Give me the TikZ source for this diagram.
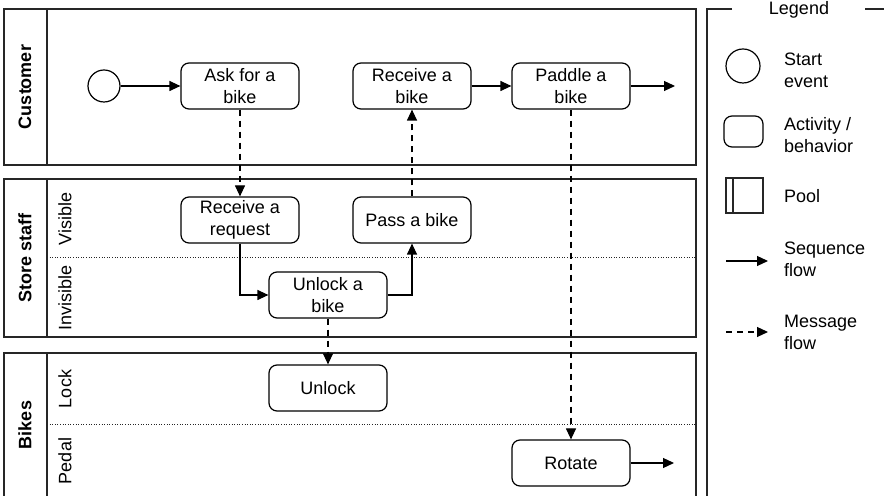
\documentclass[tikz,border=0pt]{standalone}
\usepackage{fontspec}
\setmainfont{Liberation Sans}
\usetikzlibrary{arrows.meta}

\tikzset{
  activity/.style={draw=black,line width=0.6pt,rounded corners=4pt,minimum width=59pt,minimum height=23pt,align=center,inner sep=1pt},
  startev/.style={draw=black,line width=0.6pt,circle,minimum size=16pt,inner sep=0pt},
  seq/.style={draw=black,line width=0.6pt,-{Triangle[length=5.5pt,width=5pt]}},
  msg/.style={seq,dash pattern=on 3pt off 2.5pt},
  pool/.style={draw=black!85,line width=0.6pt},
  lane/.style={draw=black!85,line width=0.5pt,dash pattern=on 0.5pt off 0.8pt},
  poollabel/.style={rotate=90,font=\fontsize{9}{11}\selectfont\bfseries},
  lanelabel/.style={rotate=90},
  legendtext/.style={anchor=west,align=left}
}

\begin{document}
\begin{tikzpicture}[x=0.5pt,y=-0.5pt,font=\fontsize{9}{11}\selectfont]
\useasboundingbox (0,0) rectangle (884,496);

% pools and lanes
\draw[pool] (4,9) rectangle (696,165);
\draw[pool] (47,9) -- (47,165);
\draw[pool] (4,179) rectangle (696,337);
\draw[pool] (47,179) -- (47,337);
\draw[lane] (47,258) -- (696,258);
\draw[pool] (4,497) |- (696,353) -- (696,497);
\draw[pool] (47,353) -- (47,497);
\draw[lane] (47,425) -- (696,425);

\node[poollabel] (customer) at (25,87) {Customer};
\node[poollabel] (staff) at (25,258) {Store staff};
\node[poollabel] (bikes) at (25,425) {Bikes};
\node[lanelabel] (visible) at (65,219) {Visible};
\node[lanelabel] (invisible) at (65,298) {Invisible};
\node[lanelabel] (lock) at (65,389) {Lock};
\node[lanelabel] (pedal) at (65,461) {Pedal};

% activities
\begin{scope}[every node/.style={activity}]
  \node (ask) at (240,86) {Ask for a\\bike};
  \node (getbike) at (412,86) {Receive a\\bike};
  \node (paddle) at (571,86) {Paddle a\\bike};
  \node (request) at (240,220) {Receive a\\request};
  \node (pass) at (412,220) {Pass a bike};
  \node (unlockbike) at (328,295) {Unlock a\\bike};
  \node (unlock) at (328,388) {Unlock};
  \node (rotate) at (571,463) {Rotate};
\end{scope}
\node[startev] (start) at (104,86) {};
\coordinate (paddleout) at (675,86);
\coordinate (rotateout) at (674,463);

% flows
\begin{scope}[every edge/.style={seq}]
  \path (start) edge (ask);
  \path (getbike) edge (paddle);
  \path (paddle) edge (paddleout);
  \path (rotate) edge (rotateout);
\end{scope}
\draw[seq] (request) |- (unlockbike);
\draw[seq] (unlockbike) -| (pass);
\begin{scope}[every edge/.style={msg}]
  \path (ask) edge (request);
  \path (pass) edge (getbike);
  \path (unlockbike) edge (unlock);
  \path (paddle) edge (rotate);
\end{scope}

% legend
\draw[pool] (732,9) -| (707,497);
\draw[pool] (865,9) -- (884,9);
\node (legend) at (799,10) {Legend};
\node[startev,minimum size=17pt] (lgstart) at (743,66) {};
\node[legendtext] (lgstarttext) at (777,70) {Start\\event};
\node[activity,minimum width=19.5pt,minimum height=15.5pt] (lgact) at (743.5,131.5) {};
\node[legendtext] (lgacttext) at (777,135) {Activity /\\behavior};
\draw[pool] (726,178) rectangle (763,213);
\draw[pool] (733,178) -- (733,213);
\node[legendtext] (lgpool) at (777,196) {Pool};
\coordinate (lgseqa) at (726,261);
\coordinate (lgseqb) at (768,261);
\draw[seq] (lgseqa) -- (lgseqb);
\node[legendtext] (lgseqtext) at (777,259) {Sequence\\flow};
\coordinate (lgmsga) at (726,332);
\coordinate (lgmsgb) at (768,332);
\draw[msg] (lgmsga) -- (lgmsgb);
\node[legendtext] (lgmsgtext) at (777,332) {Message\\flow};
\end{tikzpicture}
\end{document}
